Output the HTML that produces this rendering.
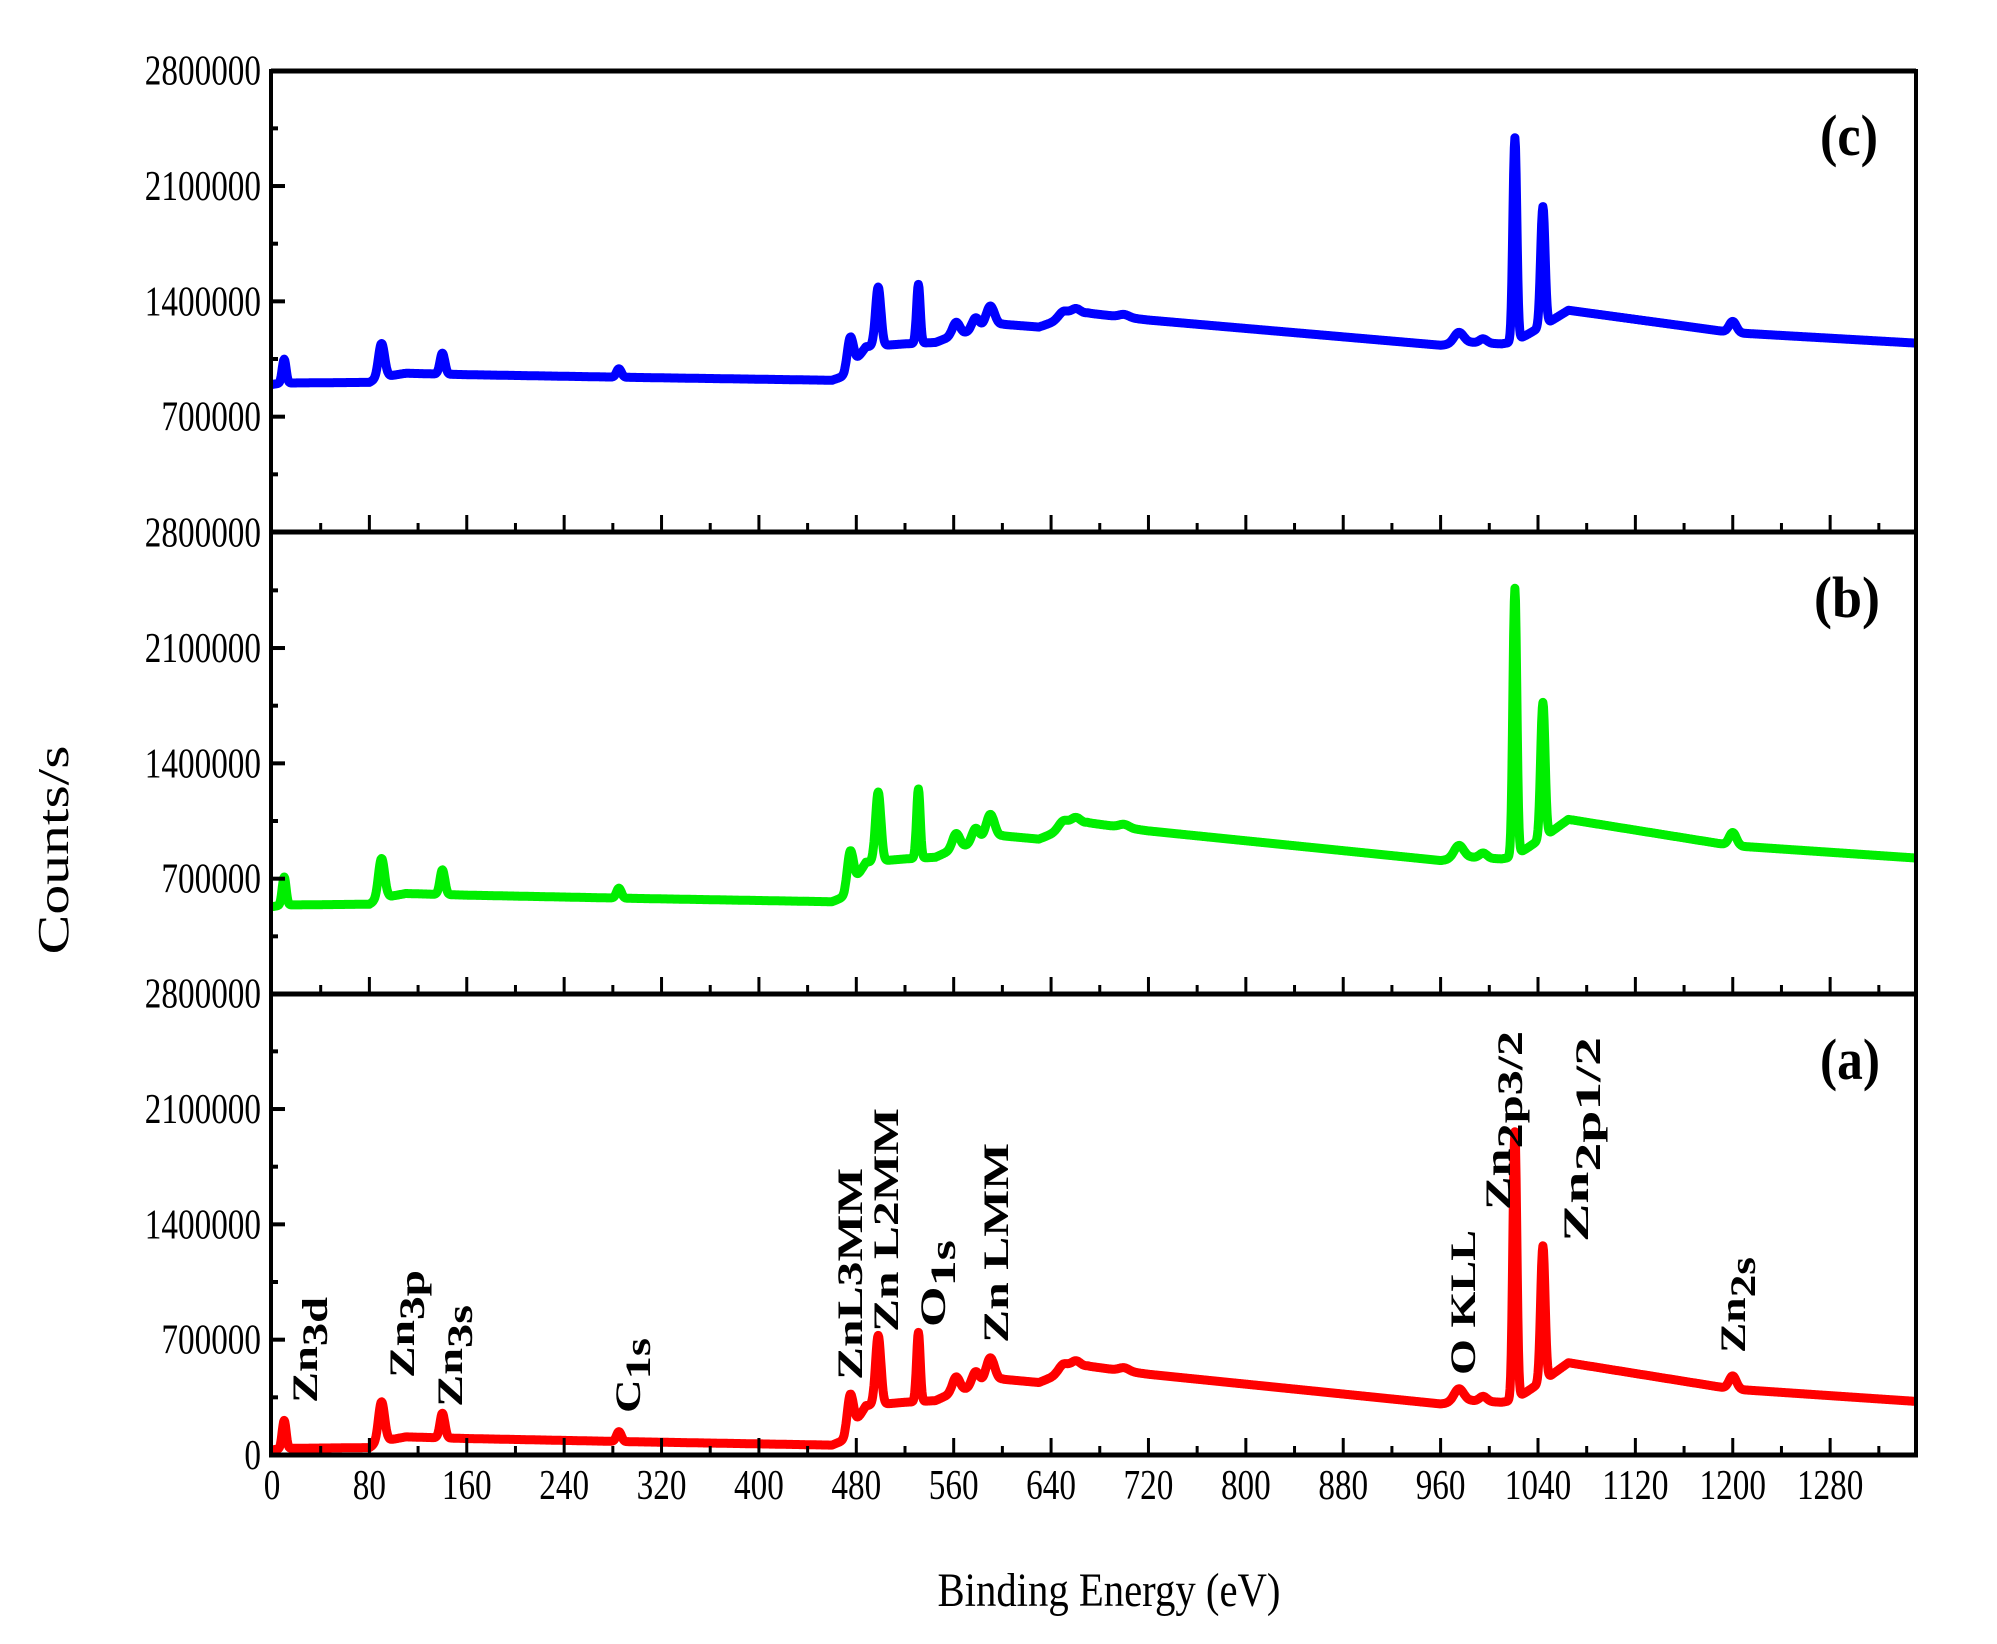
<!DOCTYPE html>
<html><head><meta charset="utf-8">
<style>
html,body{margin:0;padding:0;background:#fff;}
svg{display:block;}
text{font-family:"Liberation Serif",serif;fill:#000;}
</style></head>
<body>
<svg id="s" width="1997" height="1644" viewBox="0 0 1997 1644" xmlns="http://www.w3.org/2000/svg">
<g id="curves"></g>
<g id="axes" stroke="#000" fill="none"></g>
<g id="labels"></g>
<g font-weight="bold" font-size="36">
<text transform="translate(317,1403) rotate(-90)" textLength="106" lengthAdjust="spacingAndGlyphs">Zn<tspan dy="10">3d</tspan></text>
<text transform="translate(414,1378) rotate(-90)" textLength="108" lengthAdjust="spacingAndGlyphs">Zn<tspan dy="10">3p</tspan></text>
<text transform="translate(462,1407) rotate(-90)" textLength="102" lengthAdjust="spacingAndGlyphs">Zn<tspan dy="10">3s</tspan></text>
<text transform="translate(640,1413) rotate(-90)" textLength="75" lengthAdjust="spacingAndGlyphs">C<tspan dy="10">1s</tspan></text>
<text transform="translate(862,1380) rotate(-90)" textLength="212" lengthAdjust="spacingAndGlyphs">ZnL3MM</text>
<text transform="translate(898,1332) rotate(-90)" textLength="224" lengthAdjust="spacingAndGlyphs">Zn L2MM</text>
<text transform="translate(945,1327) rotate(-90)" textLength="87" lengthAdjust="spacingAndGlyphs">O<tspan dy="10">1s</tspan></text>
<text transform="translate(1008,1343) rotate(-90)" textLength="200" lengthAdjust="spacingAndGlyphs">Zn LMM</text>
<text transform="translate(1475,1375) rotate(-90)" textLength="145" lengthAdjust="spacingAndGlyphs">O KLL</text>
<text transform="translate(1510,1210) rotate(-90)" textLength="179" lengthAdjust="spacingAndGlyphs">Zn<tspan dy="12">2p3/2</tspan></text>
<text transform="translate(1588,1242) rotate(-90)" textLength="205" lengthAdjust="spacingAndGlyphs">Zn<tspan dy="12">2p1/2</tspan></text>
<text transform="translate(1745,1353) rotate(-90)" textLength="96" lengthAdjust="spacingAndGlyphs">Zn<tspan dy="10">2s</tspan></text>
</g>
<g font-weight="bold" font-size="58">
<text x="1820" y="155" textLength="58" lengthAdjust="spacingAndGlyphs">(c)</text>
<text x="1814" y="617" textLength="66" lengthAdjust="spacingAndGlyphs">(b)</text>
<text x="1820" y="1079" textLength="60" lengthAdjust="spacingAndGlyphs">(a)</text>
</g>
<text transform="translate(68,850) rotate(-90)" font-size="44" text-anchor="middle" textLength="209" lengthAdjust="spacingAndGlyphs">Counts/s</text>
<text x="1109" y="1606" font-size="48" text-anchor="middle" textLength="343" lengthAdjust="spacingAndGlyphs">Binding Energy (eV)</text>
</svg>
<script>
(function(){
var NS="http://www.w3.org/2000/svg";
var X0=272, SX=1.2173, L=271, R=1916, TOP=71, PH=461.3;
var bottoms={a:1455,b:994,c:532};
function ex(e){return X0+e*SX;}
var base=[[0,30e3],[8,40e3],[80,45e3],[88,80e3],[110,110e3],[160,100e3],[300,80e3],[460,60e3],[470,90e3],[488,300e3],[520,320e3],[545,330e3],[560,380e3],[600,460e3],[630,440e3],[650,500e3],[670,540e3],[720,490e3],[960,310e3],[985,330e3],[1010,320e3],[1018,330e3],[1030,380e3],[1050,480e3],[1065,560e3],[1200,400e3],[1351,325e3]];
function B(e){for(var i=1;i<base.length;i++){if(e<=base[i][0]){var a=base[i-1],b=base[i];return a[1]+(b[1]-a[1])*(e-a[0])/(b[0]-a[0]);}}return base[base.length-1][1];}
var peaks=[[10,170e3,1.6],[90,240e3,2.5],[140,150e3,2],[285,60e3,2],[475,220e3,2.5],[498,420e3,2.2],[531,420e3,1.5],[562,90e3,3],[578,90e3,3],[590,150e3,3.5],[650,50e3,4],[660,50e3,4],[700,20e3,4],[975,80e3,4],[995,30e3,3],[1021,1620e3,1.6],[1044,820e3,1.8],[1200,80e3,3]];
function A(e,pc){var v=B(e);for(var i=0;i<peaks.length;i++){var p=peaks[i],h=p[1];if(pc=='c'&&p[0]==1021)h=1450e3;if(pc=='c'&&p[0]==1044)h=850e3;v+=h*Math.exp(-Math.pow(e-p[0],2)/(2*p[2]*p[2]));}return v;}
var cols={a:'#ff0000',b:'#00ee00',c:'#0000ff'};
var g=document.getElementById('curves');
['a','b','c'].forEach(function(pc){
 var d='';var yb=bottoms[pc];
 for(var e=0;e<=1351;e+=0.5){
  var v=A(e,pc);
  if(pc=='b')v=v+500e3;
  if(pc=='c')v=0.85*v+870e3;
  var y=yb-v/2.8e6*PH;
  d+=(e==0?'M':'L')+ex(e).toFixed(1)+' '+y.toFixed(1);
 }
 var p=document.createElementNS(NS,'path');p.setAttribute('d',d);p.setAttribute('stroke',cols[pc]);p.setAttribute('stroke-width','9');p.setAttribute('fill','none');p.setAttribute('stroke-linejoin','round');g.appendChild(p);
});
var ax=document.getElementById('axes');
function line(x1,y1,x2,y2,w){var l=document.createElementNS(NS,'line');l.setAttribute('x1',x1);l.setAttribute('y1',y1);l.setAttribute('x2',x2);l.setAttribute('y2',y2);l.setAttribute('stroke-width',w);ax.appendChild(l);}
var lb=document.getElementById('labels');
function txt(x,y,s,anchor,len){var t=document.createElementNS(NS,'text');t.setAttribute('x',x);t.setAttribute('y',y);t.setAttribute('font-size','42');t.setAttribute('text-anchor',anchor);if(len){t.setAttribute('textLength',len);t.setAttribute('lengthAdjust','spacingAndGlyphs');}t.textContent=s;lb.appendChild(t);}
line(L,TOP,R,TOP,5);line(L,TOP-2,L,1457,4);line(R,TOP-2,R,1457,4);
['c','b','a'].forEach(function(pc){
 var yb=bottoms[pc];
 line(L-2,yb,R+2,yb,5);
 for(var e=0;e<=1340;e+=40){var maj=(e%80==0);if(e==0)continue;line(ex(e),yb,ex(e),yb-(maj?17:9),3);}
 for(var k=1;k<8;k++){var y=yb-k*PH/8;line(L,y,L+(k%2==0?14:7),y,4);}
 var labs=pc=='a'?['0','700000','1400000','2100000','2800000']:['','700000','1400000','2100000','2800000'];
 for(var k=0;k<5;k++){if(!labs[k])continue;var y=yb-k*PH/4+14;var s=labs[k];txt(261,y,s,'end',s.length*16.6);}
});
for(var e=0;e<=1280;e+=80){var s=String(e);txt(ex(e),1499,s,'middle',s.length*16.6);}
})();
</script>
</body></html>
